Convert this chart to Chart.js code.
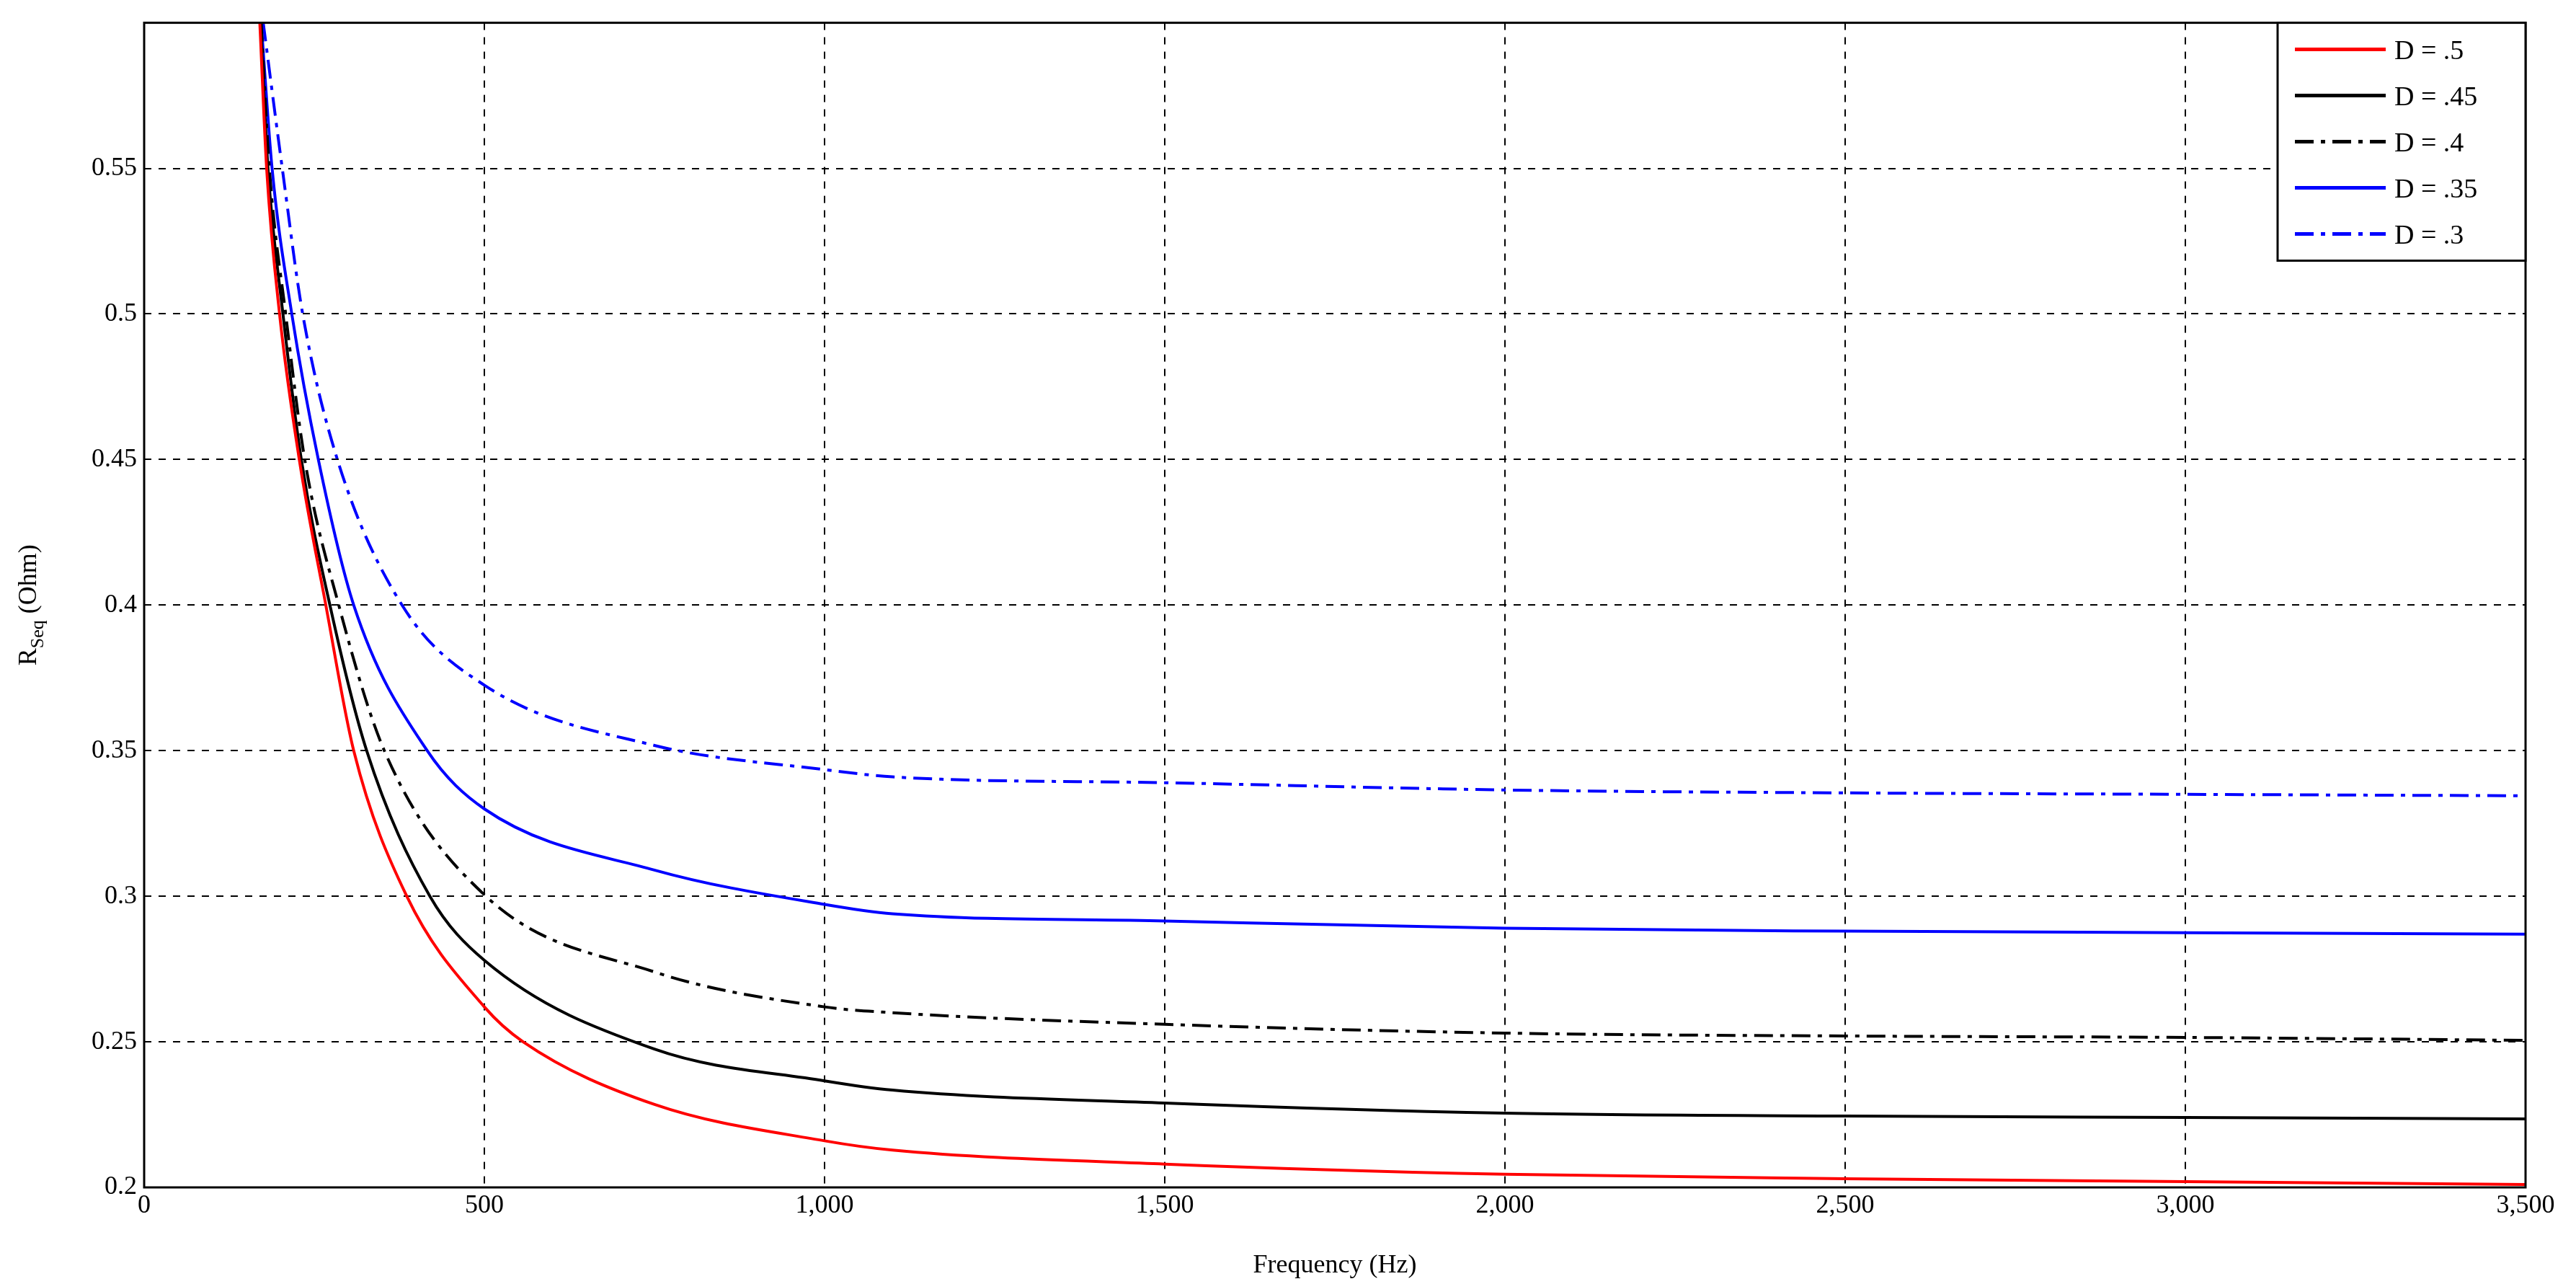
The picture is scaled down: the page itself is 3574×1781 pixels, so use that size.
<!DOCTYPE html>
<html>
<head>
<meta charset="utf-8">
<script src="https://cdn.jsdelivr.net/npm/chart.js@4/dist/chart.umd.min.js"></script>
<style>
  html, body { margin: 0; padding: 0; background: #fff; }
  #wrap { width: 3574px; height: 1781px; }
</style>
</head>
<body>
<div id="wrap"><canvas id="chart" width="3574" height="1781"></canvas></div>
<script>
// frequency points (Hz) and values (Ohm)
const freqTop = [170, 180, 200, 230, 270, 310, 350, 400, 500, 750, 1000, 1100, 1500, 2000, 2500, 3000, 3500]

const labels = ['D = .5', 'D = .45', 'D = .4', 'D = .35', 'D = .3']

const rD50 = [[170, 0.6], [180, 0.55], [199, 0.5], [228, 0.45], [267, 0.4], [308, 0.35], [386, 0.3], [500, 0.262], [557, 0.25], [750, 0.2285], [1000, 0.216], [1100, 0.2128], [1500, 0.208], [2000, 0.2045], [2500, 0.203], [3000, 0.202], [3500, 0.201]]
const rD45 = [[171, 0.6], [182, 0.55], [204, 0.5], [231, 0.45], [273, 0.4], [327, 0.35], [420, 0.3], [500, 0.278], [750, 0.2475], [1000, 0.2366], [1100, 0.2334], [1500, 0.229], [2000, 0.2255], [2500, 0.2245], [3000, 0.224], [3500, 0.2235]]
const rD40 = [[172, 0.6], [184, 0.55], [208, 0.5], [236, 0.45], [286, 0.4], [353, 0.35], [500, 0.3005], [750, 0.274], [1000, 0.262], [1100, 0.26], [1500, 0.256], [2000, 0.253], [2500, 0.252], [3000, 0.2515], [3500, 0.2505]]
const rD35 = [[172, 0.6], [188, 0.55], [217, 0.5], [256, 0.45], [308, 0.4], [416, 0.35], [500, 0.33], [750, 0.309], [1000, 0.2972], [1100, 0.294], [1500, 0.2915], [2000, 0.289], [2500, 0.288], [3000, 0.2875], [3500, 0.287]]
const rD30 = [[175, 0.6], [203, 0.55], [233, 0.5], [284, 0.45], [379, 0.4], [500, 0.3725], [750, 0.3518], [1000, 0.3435], [1100, 0.341], [1500, 0.339], [2000, 0.3365], [2500, 0.3355], [3000, 0.335], [3500, 0.3345]]

const xTicks = [0, 500, 1000, 1500, 2000, 2500, 3000, 3500]
const yTicks = [0.2, 0.25, 0.3, 0.35, 0.4, 0.45, 0.5, 0.55]

const serif = '"Liberation Serif", "DejaVu Serif", serif'
const dashDot = [26, 10, 6, 10]

function mk(label, pts, color, dash) {
  return {
    label: label,
    data: pts.map(p => ({ x: p[0], y: p[1] })),
    borderColor: color,
    borderWidth: 4,
    borderDash: dash,
    pointRadius: 0,
    fill: false,
    cubicInterpolationMode: 'monotone'
  }
}

const datasets = [
  mk(labels[0], rD50, '#ff0000', []),
  mk(labels[1], rD45, '#000000', []),
  mk(labels[2], rD40, '#000000', dashDot),
  mk(labels[3], rD35, '#0000ff', []),
  mk(labels[4], rD30, '#0000ff', dashDot)
]

// frame, y title with subscript, and matlab-style legend box
const extras = {
  id: 'extras',
  afterDraw(chart) {
    const c = chart.ctx, a = chart.chartArea
    c.save()
    c.strokeStyle = '#000'
    c.lineWidth = 3
    c.setLineDash([])
    c.strokeRect(a.left, a.top, a.right - a.left, a.bottom - a.top)

    // y title
    c.translate(40, (a.top + a.bottom) / 2)
    c.rotate(-Math.PI / 2)
    c.fillStyle = '#000'
    c.textBaseline = 'alphabetic'
    c.font = '36px ' + serif
    const w1 = c.measureText('R').width
    c.font = '26px ' + serif
    const w2 = c.measureText('Seq').width
    c.font = '36px ' + serif
    const w3 = c.measureText(' (Ohm)').width
    let x0 = -(w1 + w2 + w3) / 2
    c.fillText('R', x0, 10)
    c.font = '26px ' + serif
    c.fillText('Seq', x0 + w1, 20)
    c.font = '36px ' + serif
    c.fillText(' (Ohm)', x0 + w1 + w2, 10)
    c.restore()

    // legend
    c.save()
    const lx = 3160, ly = a.top, lw = a.right - lx, lh = 330
    c.fillStyle = '#fff'
    c.fillRect(lx, ly, lw, lh)
    c.strokeStyle = '#000'
    c.lineWidth = 3
    c.strokeRect(lx, ly, lw, lh)
    c.font = '38px ' + serif
    c.textBaseline = 'middle'
    chart.data.datasets.forEach((ds, i) => {
      const yy = ly + 37 + i * 64
      c.strokeStyle = ds.borderColor
      c.lineWidth = 5
      c.setLineDash(ds.borderDash)
      c.beginPath()
      c.moveTo(lx + 24, yy)
      c.lineTo(lx + 150, yy)
      c.stroke()
      c.setLineDash([])
      c.fillStyle = '#000'
      c.fillText(ds.label, lx + 162, yy + 3)
    })
    c.restore()
  }
}

const ctx = document.getElementById('chart')
new Chart(ctx, {
  type: 'line',
  data: { datasets: datasets },
  options: {
    responsive: false,
    animation: false,
    layout: { padding: { top: 23, right: 70, left: 0, bottom: 0 } },
    plugins: { legend: { display: false }, tooltip: { enabled: false } },
    scales: {
      x: {
        type: 'linear',
        min: 0,
        max: 3500,
        afterBuildTicks: s => { s.ticks = xTicks.map(v => ({ value: v })) },
        afterFit: s => { s.height = 134 },
        ticks: { color: '#000', font: { family: serif, size: 36 }, padding: 4, maxRotation: 0 },
        grid: { color: '#000', lineWidth: 2, tickLength: 0, borderDash: [10, 10] },
        border: { display: false, dash: [10, 10] },
        title: { display: true, text: 'Frequency (Hz)', color: '#000', font: { family: serif, size: 36 }, padding: { top: 0 } }
      },
      y: {
        type: 'linear',
        min: 0.2,
        max: 0.6,
        afterBuildTicks: s => { s.ticks = yTicks.map(v => ({ value: v })) },
        afterFit: s => { s.width = 200 },
        ticks: { color: '#000', font: { family: serif, size: 36 }, padding: 10, callback: v => String(+v.toFixed(2)) },
        grid: { color: '#000', lineWidth: 2, tickLength: 0 },
        border: { display: false, dash: [10, 10] }
      }
    }
  },
  plugins: [extras]
})
// dashed grid (v4 uses border.dash / grid via scriptable), set afterwards
</script>
</body>
</html>
